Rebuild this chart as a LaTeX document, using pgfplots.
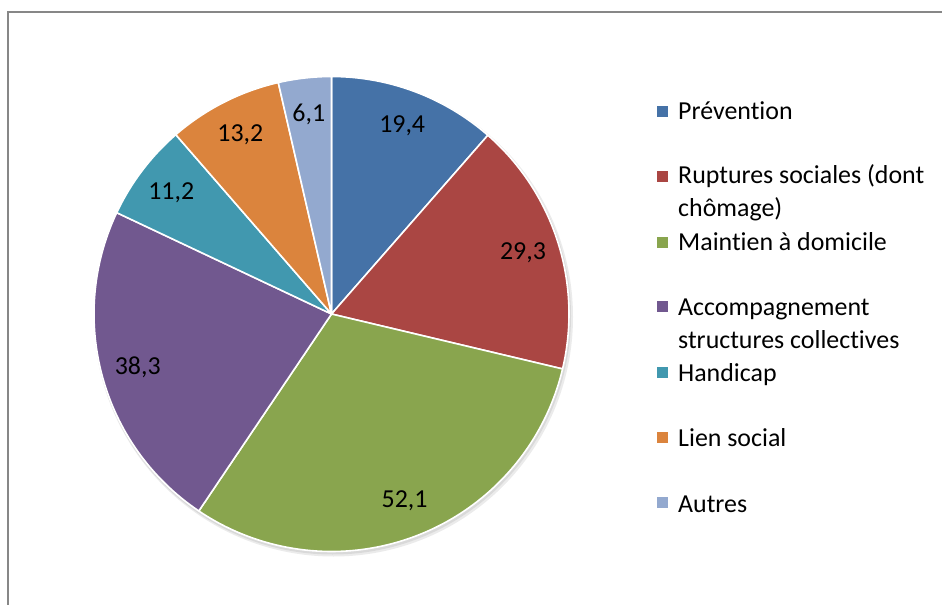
\documentclass[border=0pt]{standalone}
\usepackage{pgfplots}
\pgfplotsset{compat=1.18}
\usepackage{pgfplotstable}
\usepackage{fontspec}
\setmainfont{Carlito}[Ligatures=NoCommon]
\definecolor{c0}{HTML}{4572A7}
\definecolor{c1}{HTML}{AA4643}
\definecolor{c2}{HTML}{89A54E}
\definecolor{c3}{HTML}{71588F}
\definecolor{c4}{HTML}{4198AF}
\definecolor{c5}{HTML}{DB843D}
\definecolor{c6}{HTML}{93A9CF}
\definecolor{framegray}{HTML}{878787}

\pgfplotstableread[col sep=comma]{
label,value
Prevention,19.4
Ruptures,29.3
Maintien,52.1
Accompagnement,38.3
Handicap,11.2
Lien,13.2
Autres,6.1
}\piedata

% total
\gdef\pietotal{0}
\pgfplotstableforeachcolumnelement{value}\of\piedata\as\v{%
  \pgfmathsetmacro\tmp{\pietotal+\v}\global\let\pietotal\tmp}
\pgfmathsetmacro\piescale{360/\pietotal}
% angles
\gdef\piecum{0}
\pgfplotstableforeachcolumnelement{value}\of\piedata\as\v{%
  \pgfmathsetmacro\sa{90-\piescale*\piecum}%
  \pgfmathsetmacro\tmp{\piecum+\v}\global\let\piecum\tmp
  \pgfmathsetmacro\ea{90-\piescale*\piecum}%
  \pgfmathsetmacro\ma{(\sa+\ea)/2}%
  \expandafter\xdef\csname piesa\pgfplotstablerow\endcsname{\sa}%
  \expandafter\xdef\csname pieea\pgfplotstablerow\endcsname{\ea}%
  \expandafter\xdef\csname piema\pgfplotstablerow\endcsname{\ma}%
  \expandafter\xdef\csname pieval\pgfplotstablerow\endcsname{\v}%
}

\begin{document}
\begin{tikzpicture}
\path[use as bounding box] (0,0) rectangle (942bp,605bp);
\begin{axis}[
  hide axis, x=1bp, y=1bp, scale only axis,
  xmin=0, xmax=942, ymin=0, ymax=605,
  anchor=origin, at={(0,0)}, clip=false,
]
% frame
\draw[framegray, line width=1.4bp] (axis cs:8,-5) -- (axis cs:8,593) -- (axis cs:950,593);
% shadow
\fill[black, opacity=0.08] (axis cs:333.5,288) circle[radius=239.5bp];
\fill[black, opacity=0.08] (axis cs:332.5,289) circle[radius=238.5bp];
% slices
\pgfplotsinvokeforeach{0,...,6}{
  \filldraw[fill=c#1, draw=white, line width=1.6bp, line join=round]
    (axis cs:331.5,291) --
    (axis cs:{331.5+237.5*cos(\csname piesa#1\endcsname)},{291+237.5*sin(\csname piesa#1\endcsname)})
    arc[start angle=\csname piesa#1\endcsname, end angle=\csname pieea#1\endcsname, radius=237.5bp]
    -- cycle;
}
\pgfplotsinvokeforeach{0,...,6}{
  \node[font=\fontsize{26}{30}\selectfont, inner sep=0pt]
    at (axis cs:{331.5+201*cos(\csname piema#1\endcsname)},{291+201*sin(\csname piema#1\endcsname)})
    {\pgfmathprintnumber[fixed, precision=1, fixed zerofill, use comma, assume math mode=true]{\csname pieval#1\endcsname}};
}
% legend
\foreach \yc/\cc in {493/c0, 428/c1, 362/c2, 298/c3, 232/c4, 167/c5, 102/c6}{
  \edef\tmpcmd{\noexpand\fill[\cc] (axis cs:657,\yc-5.5) rectangle (axis cs:668,\yc+5.5);}
  \tmpcmd
}
\begin{scope}[every node/.style={anchor=base west, inner sep=0pt, font=\fontsize{26}{30}\selectfont}]
\node at (axis cs:678,485) {Prévention};
\node at (axis cs:678,421) {Ruptures sociales (dont};
\node at (axis cs:678,388) {chômage)};
\node at (axis cs:678,355) {Maintien à domicile};
\node at (axis cs:678,290) {Accompagnement};
\node at (axis cs:678,257) {structures collectives};
\node at (axis cs:678,224) {Handicap};
\node at (axis cs:678,159) {Lien social};
\node at (axis cs:678,93) {Autres};
\end{scope}
\end{axis}
\end{tikzpicture}
\end{document}
